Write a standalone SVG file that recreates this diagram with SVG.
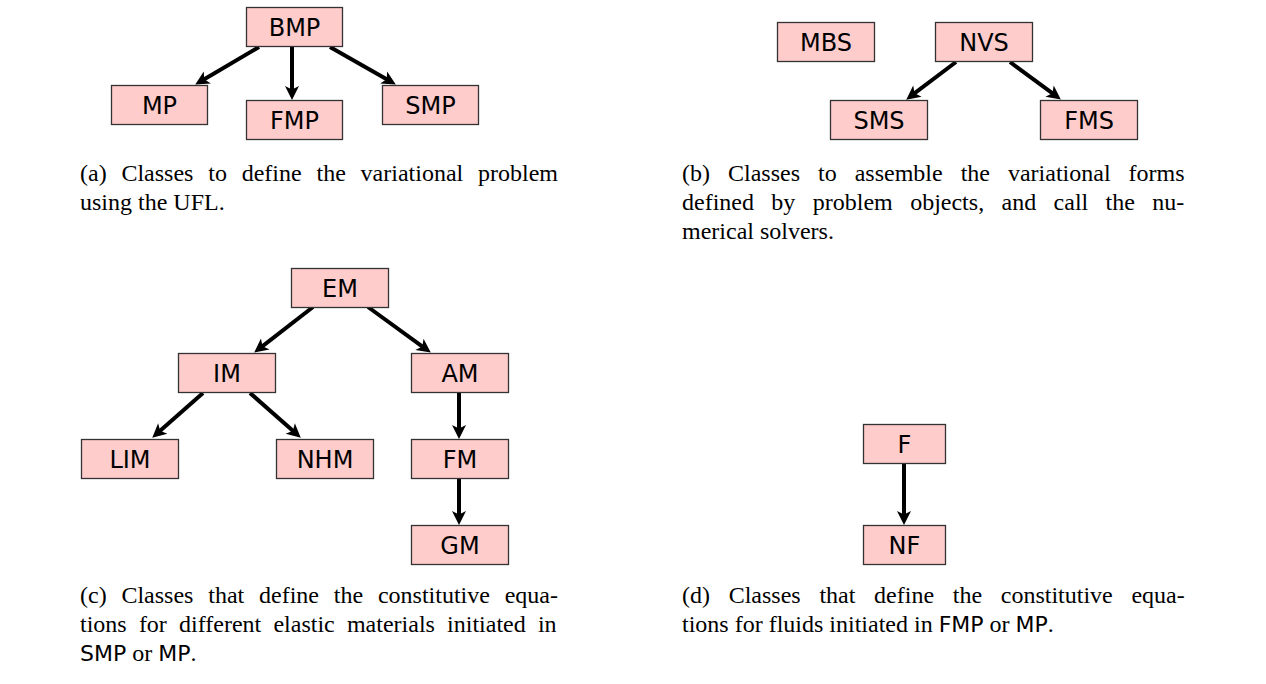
<svg xmlns="http://www.w3.org/2000/svg" width="1266" height="684" viewBox="0 0 1266 684">
<style>
.node rect{fill:#ffcccc;stroke:#333;stroke-width:1.3}
.node text{font-family:"DejaVu Sans",sans-serif;font-size:24px;fill:#000;text-anchor:middle}
.conn line{stroke:#000;stroke-width:4;fill:none;marker-end:url(#arr)}
.cap{font-family:"Liberation Serif",serif;font-size:24px;fill:#000}
.sf{font-family:"DejaVu Sans",sans-serif;font-size:22px}
</style>
<defs>
<marker id="arr" markerUnits="userSpaceOnUse" markerWidth="20" markerHeight="20" refX="0" refY="0" orient="auto" overflow="visible" viewBox="-10 -10 20 20">
<path d="M9,0 L-5,-7 L-1.5,0 L-5,7 Z" fill="#000"/>
</marker>
</defs>
<rect width="1266" height="684" fill="#fff"/>
<g class="conn" id="connectors">
<line x1="259" y1="47" x2="203" y2="80"/>
<line x1="292" y1="47" x2="292" y2="91"/>
<line x1="330" y1="47" x2="388" y2="80"/>
<line x1="956" y1="62" x2="913.4" y2="94.2"/>
<line x1="1010" y1="62" x2="1053.6" y2="94.2"/>
<line x1="313" y1="307" x2="261.3" y2="347.1"/>
<line x1="368" y1="307" x2="423.5" y2="347.3"/>
<line x1="203" y1="393" x2="159" y2="431.7"/>
<line x1="250" y1="393" x2="294" y2="431.7"/>
<line x1="459" y1="393" x2="459" y2="430"/>
<line x1="459" y1="479" x2="459" y2="516"/>
<line x1="904" y1="463" x2="904" y2="516"/>
</g>
<g class="node" id="BMP"><rect x="246.5" y="7.5" width="96" height="39"/><text x="294.5" y="35.5">BMP</text></g>
<g class="node" id="MP"><rect x="111.5" y="85.5" width="96" height="39"/><text x="159.5" y="113.5">MP</text></g>
<g class="node" id="FMP"><rect x="246.5" y="100.5" width="96" height="39"/><text x="294.5" y="128.5">FMP</text></g>
<g class="node" id="SMP"><rect x="382.5" y="85.5" width="96" height="39"/><text x="430.5" y="113.5">SMP</text></g>
<g class="node" id="MBS"><rect x="777.5" y="22.5" width="97" height="39"/><text x="826" y="50.5">MBS</text></g>
<g class="node" id="NVS"><rect x="935.5" y="22.5" width="97" height="39"/><text x="984" y="50.5">NVS</text></g>
<g class="node" id="SMS"><rect x="830.5" y="100.5" width="97" height="39"/><text x="879" y="128.5">SMS</text></g>
<g class="node" id="FMS"><rect x="1040.5" y="100.5" width="97" height="39"/><text x="1089" y="128.5">FMS</text></g>
<g class="node" id="EM"><rect x="291.5" y="268.5" width="97" height="39"/><text x="340" y="296.5">EM</text></g>
<g class="node" id="IM"><rect x="178.5" y="353.5" width="97" height="39"/><text x="227" y="381.5">IM</text></g>
<g class="node" id="AM"><rect x="411.5" y="353.5" width="97" height="39"/><text x="460" y="381.5">AM</text></g>
<g class="node" id="LIM"><rect x="81.5" y="439.5" width="97" height="39"/><text x="130" y="467.5">LIM</text></g>
<g class="node" id="NHM"><rect x="276.5" y="439.5" width="97" height="39"/><text x="325" y="467.5">NHM</text></g>
<g class="node" id="FM"><rect x="411.5" y="439.5" width="97" height="39"/><text x="460" y="467.5">FM</text></g>
<g class="node" id="GM"><rect x="411.5" y="525.5" width="97" height="39"/><text x="460" y="553.5">GM</text></g>
<g class="node" id="F"><rect x="863.5" y="424.5" width="82" height="39"/><text x="904.5" y="452.5">F</text></g>
<g class="node" id="NF"><rect x="863.5" y="525.5" width="82" height="39"/><text x="904.5" y="553.5">NF</text></g>
<g id="captions" class="cap">
<text x="80" y="181" word-spacing="8.8">(a) Classes to define the variational problem</text>
<text x="80" y="210">using the UFL.</text>
<text x="682" y="181" word-spacing="12">(b) Classes to assemble the variational forms</text>
<text x="682" y="210" word-spacing="11.4">defined by problem objects, and call the nu-</text>
<text x="682" y="239">merical solvers.</text>
<text x="80" y="603" word-spacing="8.8">(c) Classes that define the constitutive equa-</text>
<text x="80" y="632" word-spacing="6.2">tions for different elastic materials initiated in</text>
<text x="80" y="661"><tspan class="sf">SMP</tspan> or <tspan class="sf">MP</tspan>.</text>
<text x="682" y="603" word-spacing="12.7">(d) Classes that define the constitutive equa-</text>
<text x="682" y="632">tions for fluids initiated in <tspan class="sf">FMP</tspan> or <tspan class="sf">MP</tspan>.</text>
</g>
</svg>
